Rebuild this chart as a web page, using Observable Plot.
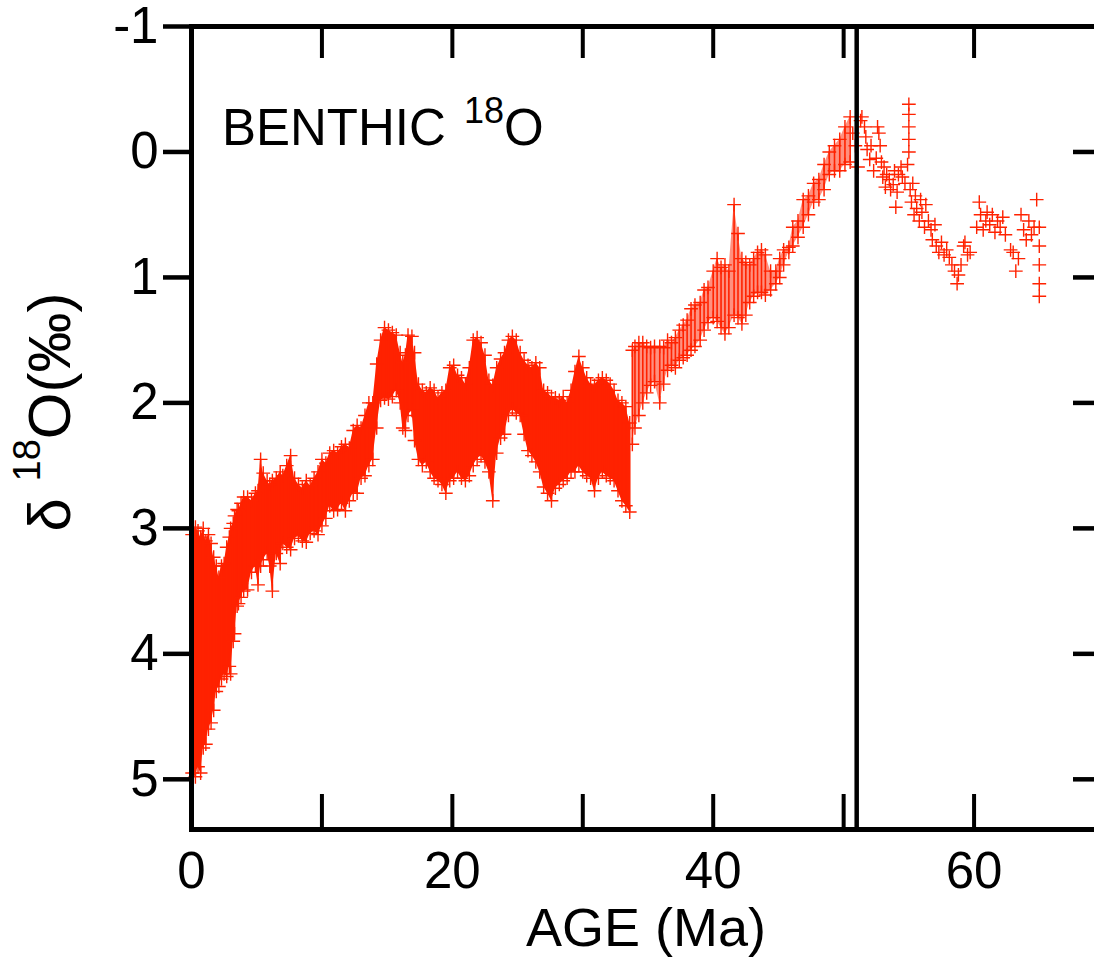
<!DOCTYPE html>
<html>
<head>
<meta charset="utf-8">
<script src="https://cdn.jsdelivr.net/npm/d3@7"></script>
<script src="https://cdn.jsdelivr.net/npm/@observablehq/plot@0.6"></script>
<style>
  html, body { margin: 0; padding: 0; overflow: hidden; background: #fff; }
  #chart svg { display: block; max-width: none !important; }
</style>
</head>
<body>
<div id="chart"></div>
<script>
// ---- Data ----
// Dense benthic d18O band: age (Ma), upper edge (lowest d18O) and lower edge (highest d18O)
const bandAge = [
  0.05,0.3,0.5,0.7,0.9,1.1,1.3,1.5,1.7,1.9,
  2.1,2.3,2.5,2.7,2.9,3.0,3.2,3.3,3.5,3.6,
  3.8,4.0,4.3,4.6,4.9,5.1,5.3,5.5,5.8,6.0,
  6.2,6.5,6.8,7.0,7.3,7.6,7.9,8.2,8.5,8.8,
  9.1,9.4,9.7,10.0,10.3,10.6,10.9,11.2,11.5,11.8,
  12.1,12.4,12.7,13.0,13.3,13.6,13.9,14.2,14.5,14.8,
  15.1,15.4,15.7,16.0,16.2,16.4,16.6,16.9,17.1,17.4,
  17.7,18.0,18.3,18.6,18.9,19.2,19.5,19.8,20.1,20.4,
  20.7,21.0,21.3,21.6,21.9,22.2,22.5,22.8,23.1,23.4,
  23.7,24.0,24.3,24.6,24.9,25.2,25.5,25.8,26.1,26.4,
  26.7,27.0,27.3,27.6,27.9,28.2,28.5,28.8,29.1,29.4,
  29.7,30.0,30.3,30.6,30.9,31.2,31.5,31.8,32.1,32.4,
  32.7,33.0,33.3,33.6,33.8,34.0,34.3,34.6,34.9,35.2,
  35.5,35.9,36.2,36.5,36.8,37.1,37.4,37.7,38.0,38.3,
  38.6,39.0,39.3,39.6,40.0,40.3,40.6,40.9,41.2,41.6,
  41.9,42.2,42.5,42.8,43.1,43.4,43.7,44.0,44.4,44.8,
  45.1,45.4,45.8,46.1,46.5,46.9,47.3,47.7,48.1,48.5,
  48.9,49.3,49.7,50.1,50.5
];
const bandTop = [
  3.05,2.99,3.02,3.07,3.0,3.1,3.05,3.12,3.23,3.3,
  3.39,3.3,3.28,3.15,3.07,3.0,2.96,2.9,2.85,2.86,
  2.8,2.75,2.75,2.78,2.72,2.7,2.45,2.56,2.62,2.65,
  2.62,2.6,2.55,2.58,2.5,2.42,2.6,2.65,2.68,2.62,
  2.66,2.6,2.55,2.45,2.48,2.4,2.38,2.4,2.35,2.33,
  2.36,2.22,2.18,2.2,2.1,2.0,2.0,1.69,1.5,1.4,
  1.42,1.44,1.46,1.6,1.68,1.62,1.46,1.47,1.6,1.85,
  1.9,1.92,1.88,1.9,1.96,1.92,1.9,1.72,1.7,1.78,
  1.8,1.85,1.72,1.5,1.48,1.52,1.62,1.82,1.86,1.72,
  1.65,1.6,1.5,1.47,1.5,1.6,1.66,1.7,1.72,1.68,
  1.72,1.9,1.92,1.95,1.96,1.98,1.95,2.0,1.9,1.75,
  1.63,1.72,1.8,1.85,1.86,1.82,1.8,1.82,1.85,1.9,
  1.98,2.0,2.03,2.16,1.58,1.55,1.52,1.52,1.55,1.56,
  1.55,1.55,1.56,1.5,1.52,1.48,1.42,1.38,1.34,1.25,
  1.22,1.2,1.1,1.08,0.95,0.85,0.92,0.9,0.95,0.42,
  0.65,0.85,0.88,0.9,0.85,0.8,0.78,0.82,0.95,0.95,
  0.85,0.78,0.76,0.6,0.55,0.38,0.35,0.25,0.22,0.1,
  0.0,-0.05,-0.1,-0.2,-0.28
];
const bandBottom = [
  4.95,4.98,4.9,4.95,4.75,4.72,4.6,4.55,4.45,4.3,
  4.26,4.2,4.16,4.18,4.1,4.16,3.9,3.84,3.62,3.6,
  3.55,3.5,3.49,3.35,3.3,3.45,3.3,3.25,3.2,3.3,
  3.5,3.2,3.28,3.12,3.15,3.17,3.08,3.06,3.1,3.11,
  3.04,3.02,3.05,2.98,2.92,2.82,2.86,2.85,2.8,2.86,
  2.78,2.72,2.72,2.6,2.58,2.5,2.45,2.2,1.98,1.96,
  1.97,1.95,1.9,2.0,2.2,2.22,2.1,2.06,2.3,2.45,
  2.5,2.47,2.55,2.6,2.62,2.65,2.72,2.62,2.6,2.55,
  2.6,2.62,2.58,2.5,2.45,2.42,2.47,2.55,2.78,2.4,
  2.28,2.25,2.1,2.05,2.08,2.1,2.25,2.38,2.42,2.47,
  2.55,2.67,2.72,2.78,2.68,2.65,2.62,2.6,2.55,2.55,
  2.5,2.55,2.58,2.6,2.7,2.6,2.55,2.58,2.6,2.62,
  2.7,2.78,2.82,2.87,2.33,2.2,2.1,2.0,1.92,1.86,
  1.83,2.0,1.85,1.74,1.7,1.72,1.66,1.64,1.62,1.58,
  1.55,1.5,1.42,1.36,1.32,1.35,1.4,1.45,1.4,1.3,
  1.32,1.37,1.3,1.2,1.15,1.12,1.12,1.14,1.1,1.05,
  1.0,0.9,0.8,0.75,0.68,0.6,0.5,0.4,0.38,0.3,
  0.18,0.15,0.15,0.1,0.08
];
// Sparse individual measurements, 50.7-65 Ma
const ptAge = [
  50.7,50.9,51.1,51.3,51.4,51.6,51.7,51.8,52.0,52.1,
  52.3,52.5,52.6,52.7,52.8,52.9,53.0,53.1,53.2,53.3,
  53.5,53.6,53.8,53.9,54.0,54.1,54.2,54.4,54.5,54.7,
  54.9,55.0,55.0,55.0,55.0,55.0,55.1,55.2,55.3,55.4,
  55.5,55.6,55.8,55.9,56.0,56.2,56.3,56.5,56.7,56.8,
  57.0,57.1,57.3,57.5,57.7,57.9,58.1,58.3,58.5,58.7,
  58.8,59.0,59.2,59.3,59.5,59.7,60.2,60.4,60.5,60.7,
  60.9,61.0,61.2,61.4,61.6,61.8,62.0,62.2,62.4,62.8,
  63.0,63.2,63.4,63.6,63.8,64.0,64.2,64.4,64.6,64.8,
  65.0,65.0,65.0,65.0,65.0
];
const ptValue = [
  -0.15,-0.05,0.12,-0.25,-0.28,-0.2,-0.12,-0.02,0.06,-0.05,
  0.15,0.05,-0.2,-0.15,-0.05,0.08,0.2,0.12,0.28,0.18,
  0.22,0.3,0.26,0.15,0.44,0.32,0.18,0.12,0.2,0.25,
  0.1,-0.38,-0.3,-0.2,-0.1,0.0,0.3,0.4,0.25,0.5,
  0.35,0.45,0.55,0.38,0.48,0.6,0.42,0.55,0.62,0.7,
  0.58,0.75,0.8,0.72,0.82,0.78,0.84,0.9,0.95,1.05,
  0.98,0.9,0.75,0.72,0.82,0.8,0.6,0.4,0.5,0.62,
  0.55,0.48,0.58,0.5,0.64,0.55,0.6,0.52,0.66,0.78,
  0.8,0.95,0.85,0.5,0.62,0.7,0.55,0.66,0.6,0.38,
  0.6,0.75,0.9,1.05,1.15
];
const xDomain = [0, 70];
const yDomain = [-1, 5.4];
const xTickValues = [10, 20, 30, 40, 50, 60];
const xTickLabels = [0, 20, 40, 60];
const yTickValues = [-1, 0, 1, 2, 3, 4, 5];
const yTickRight = [0, 1, 2, 3, 4, 5];
const eventAge = [51];
const xTitle = "AGE (Ma)";

// ---- Build ----
const red = "#ff2200";
const FONT = "'Liberation Sans', Arial, Helvetica, sans-serif";
const band = bandAge.map((a, i) => ({age: a, top: bandTop[i], bottom: bandBottom[i]}));
const pts = ptAge.map((a, i) => ({age: a, value: ptValue[i]}));

const W = 1110, H = 957, ML = 191, MR = 6, MT = 26, MB = 128;
const PW = W - ML - MR, PH = H - MT - MB;
const cross = {symbol: "plus", r: 4.5, stroke: red, strokeWidth: 1.4};

const plot = Plot.plot({
  width: W, height: H,
  marginLeft: ML, marginRight: MR, marginTop: MT, marginBottom: MB,
  style: {fontFamily: FONT, background: "white", color: "black", maxWidth: "none"},
  x: {domain: xDomain, axis: null},
  y: {domain: yDomain, reverse: true, axis: null},
  marks: [
    Plot.areaY(band.filter(d => d.age <= 33.6), {x: "age", y1: "top", y2: "bottom", fill: red}),
    Plot.areaY(band.filter(d => d.age >= 33.8), {x: "age", y1: "top", y2: "bottom", fill: red, fillOpacity: 0.5}),
    Plot.ruleX(band, {x: "age", y1: "top", y2: "bottom", stroke: red, strokeWidth: 1.6}),
    Plot.dot(band, {x: "age", y: "top", ...cross}),
    Plot.dot(band, {x: "age", y: "bottom", ...cross}),
    Plot.dot(pts, {x: "age", y: "value", ...cross}),
    Plot.ruleX(eventAge, {x: d => d, stroke: "black", strokeWidth: 4.5}),
    Plot.frame({stroke: "black", strokeWidth: 5}),
    // inward ticks: top and bottom
    Plot.ruleX(xTickValues, {x: d => d, stroke: "black", strokeWidth: 4, insetBottom: PH - 32}),
    Plot.ruleX(xTickValues, {x: d => d, stroke: "black", strokeWidth: 4, insetTop: PH - 35}),
    // right inward ticks
    Plot.ruleY(yTickRight, {y: d => d, stroke: "black", strokeWidth: 4.5, insetLeft: PW - 31}),
    // left outward ticks
    Plot.ruleY(yTickValues, {y: d => d, stroke: "black", strokeWidth: 4.5, insetRight: PW - 28, dx: -28}),
    Plot.axisY(yTickValues, {anchor: "left", tickSize: 0, tickPadding: 33, fontSize: 51, tickFormat: d => String(d), label: null}),
    Plot.axisX(xTickLabels, {anchor: "bottom", tickSize: 0, tickPadding: 22, fontSize: 51, tickFormat: d => String(d), label: null}),
    Plot.text([xTitle], {frameAnchor: "bottom", lineAnchor: "top", dy: 78, dx: -2, fontSize: 54, fill: "black"})
  ]
});

const svg = d3.select(plot);
// y-axis title: δ18O(‰) with superscript
const yl = svg.append("text")
  .attr("transform", "translate(70,412) rotate(-90)")
  .attr("text-anchor", "middle")
  .attr("font-family", FONT)
  .attr("font-size", 60)
  .attr("fill", "black");
yl.append("tspan").text("δ ");
yl.append("tspan").attr("font-size", 38).attr("dy", -30).text("18");
yl.append("tspan").attr("dy", 30).text("O(‰)");

// in-plot label
const tl = svg.append("text")
  .attr("x", 222).attr("y", 145)
  .attr("text-anchor", "start")
  .attr("font-family", FONT)
  .attr("font-size", 51)
  .attr("fill", "black");
tl.append("tspan").text("BENTHIC ");
tl.append("tspan").attr("font-size", 36).attr("dy", -22).attr("dx", 4).text("18");
tl.append("tspan").attr("dy", 22).text("O");

document.getElementById("chart").appendChild(plot);
</script>
</body>
</html>
